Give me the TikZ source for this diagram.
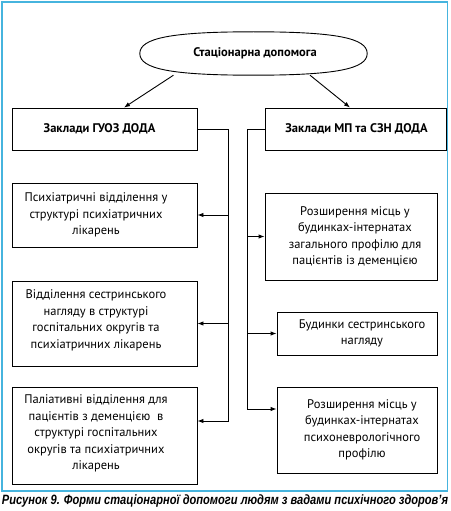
\documentclass[tikz,border=0pt]{standalone}
\usepackage{fontspec}
\setmainfont{PT Sans}
\newfontfamily\capfont{Liberation Sans}
\usetikzlibrary{arrows.meta}
\definecolor{framec}{RGB}{70,180,222}
\tikzset{
  box/.style={draw, line width=0.9pt, inner sep=0pt},
  txt/.style={align=center, inner sep=0pt, font=\fontsize{12.5}{16.5}\selectfont},
  head/.style={inner sep=0pt, font=\bfseries\fontsize{12.5}{16.5}\selectfont},
  conn/.style={line width=0.9pt},
  arr/.style={line width=0.9pt, -{Latex[length=6pt,width=4.5pt]}},
}
\begin{document}
\begin{tikzpicture}[x=1pt,y=-1pt]
\useasboundingbox (0,0) rectangle (450,511);
\fill[white] (0,0) rectangle (450,511);
\draw[framec, line width=1.4pt] (2,2) rectangle (447.5,491);

% top ellipse
\node[inner sep=0pt, minimum width=227pt, minimum height=43pt] (st) at (253.5,53.5) {};
\draw[conn] (st.west) .. controls +(0,-15.5) and +(-82,0) .. (st.north)
            .. controls +(82,0) and +(0,-15.5) .. (st.east)
            .. controls +(0,15.5) and +(82,0) .. (st.south)
            .. controls +(-82,0) and +(0,15.5) .. (st.west);
\node[head] (tst) at ([xshift=1.5pt]st.center) {Стаціонарна допомога};

% second level
\node[box, minimum width=185pt, minimum height=42pt] (gl) at (104.5,129) {};
\node[head] (tgl) at ([xshift=-5pt]gl.center) {Заклади ГУОЗ ДОДА};
\node[box, minimum width=181pt, minimum height=42pt] (gr) at (355.5,129) {};
\node[head] (tgr) at ([xshift=1pt]gr.center) {Заклади МП та СЗН ДОДА};

% left column
\node[box, minimum width=185pt, minimum height=64pt] (l1) at (104.5,215) {};
\node[txt] (tl1) at ([xshift=-8.5pt]l1.center) {Психіатричні відділення у\\структурі психіатричних\\лікарень};
\node[box, minimum width=185pt, minimum height=85pt] (l2) at (104.5,323.5) {};
\node[txt] (tl2) at ([xshift=-8.5pt,yshift=3pt]l2.center) {Відділення сестринського\\нагляду в структурі\\госпітальних округів та\\психіатричних лікарень};
\node[box, minimum width=185pt, minimum height=97pt] (l3) at (104.5,435.5) {};
\node[txt] (tl3) at ([xshift=-8.5pt,yshift=2pt]l3.center) {Паліативні відділення для\\пацієнтів з деменцією\ \ в\\структурі госпітальних\\округів та психіатричних\\лікарень};

% right column
\node[box, minimum width=172pt, minimum height=87pt] (r1) at (351,236.5) {};
\node[txt] (tr1) at ([xshift=4pt]r1.center) {Розширення місць у\\будинках-інтернатах\\загального профілю для\\пацієнтів із деменцією};
\node[box, minimum width=160pt, minimum height=43pt] (r2) at (357,333.5) {};
\node[txt] (tr2) at ([xshift=5pt]r2.center) {Будинки сестринського\\нагляду};
\node[box, minimum width=160pt, minimum height=86pt] (r3) at (357,430) {};
\node[txt] (tr3) at ([xshift=5pt]r3.center) {Розширення місць у\\будинках-інтернатах\\психоневрологічного\\профілю};

% connectors from ellipse
\draw[arr] ([xshift=-80pt]st.south) -- ([xshift=19.5pt]gl.north);
\draw[arr] ([xshift=56.5pt]st.south) -- ([xshift=-5.5pt]gr.north);

% left trunk
\coordinate (tL) at (228,421);
\draw[arr] (gl.east) -| (tL) -- (tL -| l3.east);
\draw[arr] (tL |- l1.east) -- (l1.east);
\draw[arr] (tL |- l2.east) -- (l2.east);

% right trunk
\coordinate (tR) at (247,409);
\draw[arr] (gr.west) -| (tR) -- (tR -| r3.west);
\draw[arr] (tR |- r1.west) -- (r1.west);
\draw[arr] (tR |- r2.west) -- (r2.west);

% caption
\node[inner sep=0pt] (cap) at (225,501.5) {\resizebox{446pt}{\height}{\capfont\bfseries\itshape\fontsize{13.5}{15}\selectfont Рисунок 9. Форми стаціонарної допомоги людям з вадами психічного здоров’я}};
\end{tikzpicture}
\end{document}
